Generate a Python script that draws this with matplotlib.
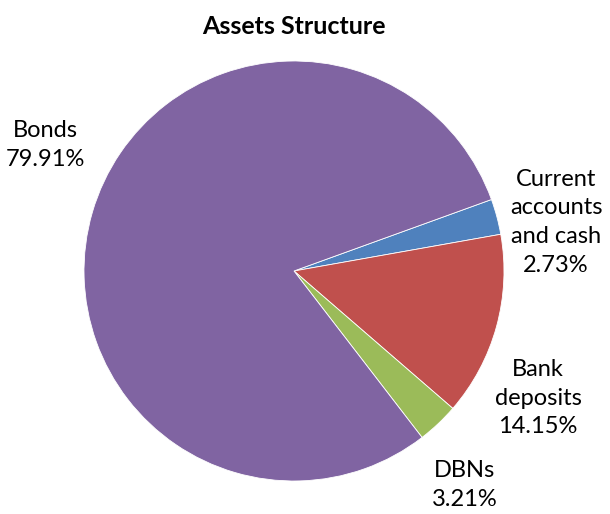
import matplotlib
matplotlib.use("Agg")
import matplotlib.pyplot as plt

labels = ["Current\naccounts\nand cash", "Bank\ndeposits", "DBNs", "Bonds"]
values = [2.73, 14.15, 3.21, 79.91]
colors = ["#4F81BD", "#C0504D", "#9BBB59", "#8064A2"]
label_pos = [(1.248, 0.233), (1.162, -0.605), (0.814, -1.019), (-1.186, 0.60)]

plt.rcParams['font.family'] = ['Lato', 'DejaVu Sans']

W, H = 610, 514
fig = plt.figure(figsize=(W / 100, H / 100), dpi=100)
cx, cy, r = 294, 271, 210
ax = fig.add_axes([(cx - r) / W, (H - cy - r) / H, 2 * r / W, 2 * r / H])
ax.pie(values, colors=colors, startangle=19.9, counterclock=False, radius=1,
       wedgeprops=dict(edgecolor="white", linewidth=0.6))
ax.set_xlim(-1, 1)
ax.set_ylim(-1, 1)
ax.set_aspect("equal")
ax.axis("off")

for lab, v, (x, y) in zip(labels, values, label_pos):
    ax.text(x, y, f"{lab}\n{v:.2f}%", ha="center", va="center", fontsize=17,
            linespacing=1.45, clip_on=False)

fig.text(294 / W, 1 - 27 / H, "Assets Structure", ha="center", va="center",
         fontsize=18, fontweight="bold")

fig.savefig("out.png", dpi=100)
